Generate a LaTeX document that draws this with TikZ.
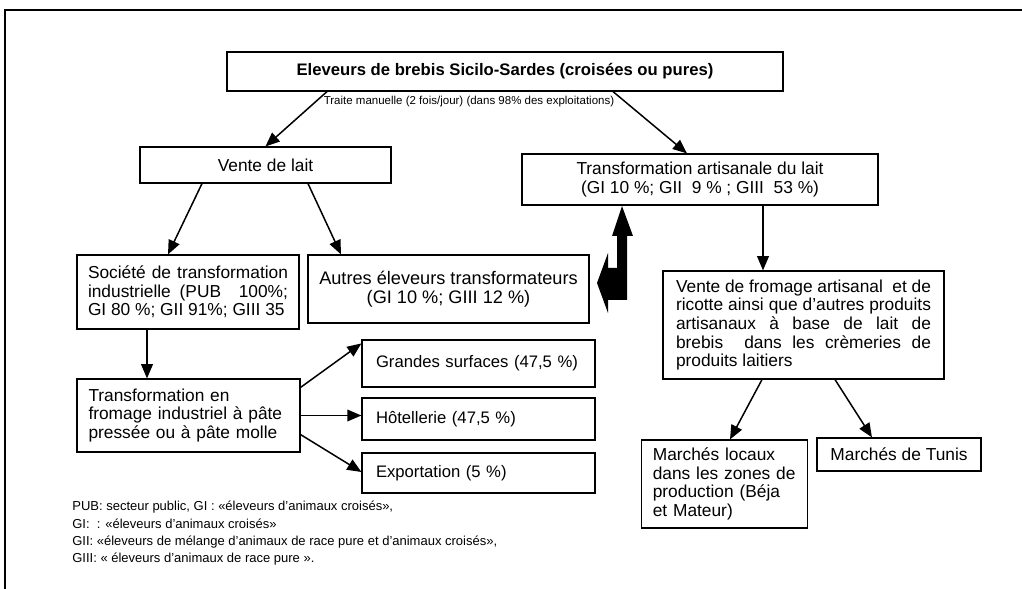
\documentclass[tikz,border=0pt]{standalone}
\usepackage{fontspec}
\setmainfont{Liberation Sans}
\usetikzlibrary{arrows.meta,calc}
\hyphenpenalty=10000
\exhyphenpenalty=10000

\begin{document}
\begin{tikzpicture}[x=0.6pt,y=-0.6pt]
\tikzstyle{box}=[draw,line width=0.7pt,inner sep=0pt,font=\fontsize{10.4}{11.2}\selectfont]
\tikzstyle{outbox}=[box,text width=123pt,inner xsep=8.4pt,align=left,font=\fontsize{10}{11}\selectfont]
\tikzstyle{arr}=[-{Triangle[length=8.5pt,width=7pt]},line width=0.9pt]
\useasboundingbox (0,0) rectangle (1022,589);
\draw[line width=1.1pt] (5,589) -- (5,10) -- (1022,10);
% top
\node (top) [box,minimum width=333.6pt,minimum height=23.4pt,font=\fontsize{10}{12}\selectfont\bfseries] at (505,71.5) {Eleveurs de brebis Sicilo-Sardes (croisées ou pures)};
\node (traite) [inner sep=0pt,font=\fontsize{6.9}{7.5}\selectfont] at (469,102) {Traite manuelle (2 fois/jour) (dans 98\% des exploitations)};
% left branch
\node (vente) [box,minimum width=150.6pt,minimum height=21.6pt] at (265.5,165) {Vente de lait};
\node (societe) [box,text width=120pt,inner xsep=6.6pt,minimum height=44.4pt,align=justify] at (188,292) {Société de transformation\linebreak industrielle (PUB\ \ 100\%;\linebreak GI 80 \%; GII 91\%; GIII 35};
\node (autres) [box,minimum width=168.6pt,minimum height=40.8pt,align=center,font=\fontsize{10.9}{11.6}\selectfont] at (448.5,289) {Autres éleveurs transformateurs\\(GI 10 \%; GIII 12 \%)};
\node (fromind) [box,text width=120pt,inner xsep=6.9pt,minimum height=43.8pt,align=left] at (188.5,415.5) {Transformation en\\fromage industriel à pâte\\pressée ou à pâte molle};
\node (grandes) [outbox,minimum height=28.2pt] at (478.5,363.5) {Grandes surfaces (47,5 \%)};
\node (hotel) [outbox,minimum height=25.2pt] at (478.5,419) {Hôtellerie (47,5 \%)};
\node (export) [outbox,minimum height=24pt] at (478.5,473) {Exportation (5 \%)};
% right branch
\node (trans) [box,minimum width=213.6pt,minimum height=30.6pt,align=center] at (700,179.5) {Transformation artisanale du lait\\(GI 10 \%; GII\ \ 9 \% ; GIII\ \ 53 \%)};
\node (ventefrom) [box,text width=153pt,inner xsep=7.8pt,minimum height=64.8pt,align=justify] at (803.5,325) {Vente de fromage artisanal\ \ et de\linebreak ricotte ainsi que d’autres produits\linebreak artisanaux à base de lait de\linebreak brebis\ \ dans les crèmeries de\linebreak produits laitiers};
\node (locaux) [box,text width=86pt,inner xsep=7pt,minimum height=52.8pt,align=left] at (724.5,484) {Marchés locaux\\dans les zones de\\production (Béja\\et Mateur)};
\node (tunis) [box,minimum width=98.4pt,minimum height=19.8pt] at (899,454.5) {Marchés de Tunis};
% notes
\node (notes) [anchor=north west,inner sep=0pt,align=left,font=\fontsize{7.8}{10.4}\selectfont] at (72,501) {PUB: secteur public, GI : «éleveurs d’animaux croisés»,\\GI:\ \ : «éleveurs d’animaux croisés»\\GII: «éleveurs de mélange d’animaux de race pure et d’animaux croisés»,\\GIII: « éleveurs d’animaux de race pure ».};
% arrows
\draw[arr] ($(top.south)+(-178,0)$) -- (vente.north);
\draw[arr] ($(top.south)+(108,0)$) -- ($(trans.north)+(-13,0)$);
\draw[arr] ($(vente.south)+(-63.5,0)$) -- ($(societe.north)+(-20,0)$);
\draw[arr] ($(vente.south)+(42.5,0)$) -- ($(autres.north)+(-107.5,0)$);
\draw[arr] ($(societe.south)+(-41,0)$) coordinate (s) -- (s |- fromind.north);
\draw[arr] ($(fromind.north east)+(0,9)$) -- ($(grandes.north west)+(0,4)$);
\draw[arr] (fromind.east) -- (fromind.east -| hotel.west);
\draw[arr] ($(fromind.south east)+(0,-18)$) -- ($(export.west)+(0,-1)$);
\draw[arr] ($(trans.south)+(63,0)$) coordinate (t) -- (t |- ventefrom.north);
\draw[arr] ($(ventefrom.south)+(-41.5,0)$) -- ($(locaux.north)+(5.5,0)$);
\draw[arr] ($(ventefrom.south)+(31.5,0)$) -- ($(tunis.north)+(-27,0)$);
% thick double arrow
\fill (622,206) -- (633,236) -- (627,236) -- (627,300) -- (608,300) -- (608,313) -- (597,283) -- (608,253) -- (608,268) -- (617,268) -- (617,236) -- (612,236) -- cycle;
\end{tikzpicture}
\end{document}
